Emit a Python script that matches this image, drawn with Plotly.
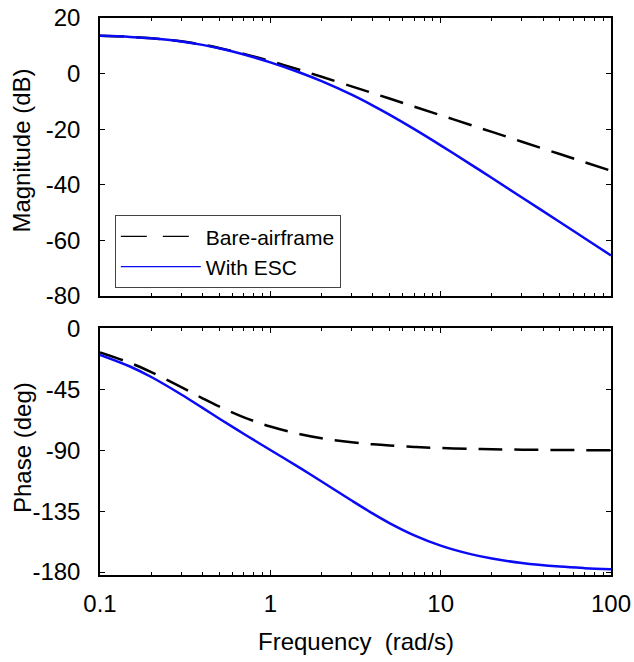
import plotly.graph_objects as go

freq = [0.1, 0.15, 0.2, 0.3, 0.4, 0.5, 0.7, 1, 1.5, 2, 3, 4, 5, 7, 10, 15, 20, 30, 50, 70, 100]
mag_bare = [13.58, 13.21, 12.73, 11.61, 10.41, 9.23, 7.10, 4.50, 1.26, -1.13, -4.58, -7.05, -8.98,
            -11.89, -14.98, -18.50, -20.99, -24.52, -28.95, -31.88, -34.97]
mag_esc = [13.57, 13.20, 12.71, 11.57, 10.33, 9.11, 6.87, 4.04, 0.29, -2.73, -7.59, -11.49, -14.75,
           -19.98, -25.81, -32.65, -37.56, -44.56, -53.40, -59.25, -65.43]
phase_bare = [-17.35, -25.11, -32.0, -43.15, -51.34, -57.38, -65.43, -72.26, -77.96, -80.91, -83.91,
              -85.43, -86.34, -87.38, -88.17, -88.78, -89.08, -89.39, -89.63, -89.74, -89.82]
phase_esc = [-19.14, -27.79, -35.58, -48.51, -58.47, -66.26, -77.77, -89.61, -103.07, -112.92, -127.06,
             -136.77, -143.72, -152.81, -160.43, -166.74, -169.99, -173.30, -175.97, -177.12, -177.99]

x_major = [0.1, 1, 10, 100]
x_major_text = ["0.1", "1", "10", "100"]
x_minor = [m * d for d in [0.1, 1, 10] for m in range(2, 10)]
mag_ticks = [20, 0, -20, -40, -60, -80]
mag_tick_text = ["20", "0", "-20", "-40", "-60", "-80"]
phase_ticks = [0, -45, -90, -135, -180]
phase_tick_text = ["0", "-45", "-90", "-135", "-180"]
series_names = ["Bare-airframe", "With ESC"]

FONT = "Liberation Sans, Arial, Helvetica, sans-serif"
BLUE = "#0a0af5"
DASH = "24px,12px"

fig = go.Figure()
fig.add_trace(go.Scatter(x=freq, y=mag_bare, mode="lines", showlegend=False,
                         line=dict(color="black", width=2.5, dash=DASH, shape="spline"),
                         xaxis="x", yaxis="y"))
fig.add_trace(go.Scatter(x=freq, y=mag_esc, mode="lines", showlegend=False,
                         line=dict(color=BLUE, width=2.5, shape="spline"),
                         xaxis="x", yaxis="y"))
fig.add_trace(go.Scatter(x=freq, y=phase_bare, mode="lines", showlegend=False,
                         line=dict(color="black", width=2.5, dash=DASH, shape="spline"),
                         xaxis="x2", yaxis="y2"))
fig.add_trace(go.Scatter(x=freq, y=phase_esc, mode="lines", showlegend=False,
                         line=dict(color=BLUE, width=2.5, shape="spline"),
                         xaxis="x2", yaxis="y2"))
# legend-only entries (thin lines as in the reference legend)
fig.add_trace(go.Scatter(x=[None], y=[None], mode="lines", name=series_names[0],
                         line=dict(color="black", width=1.2, dash="26px,16px"),
                         xaxis="x", yaxis="y"))
fig.add_trace(go.Scatter(x=[None], y=[None], mode="lines", name=series_names[1],
                         line=dict(color=BLUE, width=1.2),
                         xaxis="x", yaxis="y"))

common_x = dict(type="log", range=[-1, 2], showline=True, linecolor="black", linewidth=1.5,
                mirror="ticks", ticks="inside", ticklen=5, tickcolor="black",
                tickvals=x_major, showgrid=False, zeroline=False, automargin=False,
                minor=dict(ticks="inside", ticklen=3, tickcolor="black", tickmode="array",
                           tickvals=x_minor, showgrid=False),
                tickfont=dict(family=FONT, size=24, color="black"))
common_y = dict(showline=True, linecolor="black", linewidth=1.5, mirror="ticks", ticks="inside",
                ticklen=5, tickcolor="black", showgrid=False, zeroline=False, automargin=False,
                ticklabelstandoff=13,
                tickfont=dict(family=FONT, size=24, color="black"))

fig.update_layout(
    width=634, height=662,
    margin=dict(l=100, r=23, t=18, b=87, autoexpand=False),
    plot_bgcolor="white", paper_bgcolor="white",
    font=dict(family=FONT, size=24, color="black"),
    xaxis=dict(common_x, domain=[0, 1], anchor="y", showticklabels=False, matches="x2"),
    yaxis=dict(common_y, domain=[0.501, 1], anchor="x", range=[-80, 20], tickvals=mag_ticks,
               ticktext=mag_tick_text),
    xaxis2=dict(common_x, domain=[0, 1], anchor="y2", ticktext=x_major_text, ticklabelstandoff=6),
    yaxis2=dict(common_y, domain=[0, 0.4434], anchor="x2", range=[-182.2, 0.7], tickvals=phase_ticks,
                ticktext=phase_tick_text),
    legend=dict(x=0.029, y=0.646, xanchor="left", yanchor="top", bordercolor="#444",
                borderwidth=1, bgcolor="white", font=dict(family=FONT, size=21),
                itemwidth=80, tracegroupgap=0),
    showlegend=True,
    annotations=[
        dict(text="Magnitude (dB)", xref="paper", yref="paper", x=-0.1526, y=0.762,
             xanchor="center", yanchor="middle", textangle=-90, showarrow=False,
             font=dict(family=FONT, size=24, color="black")),
        dict(text="Phase (deg)", xref="paper", yref="paper", x=-0.1526, y=0.228,
             xanchor="center", yanchor="middle", textangle=-90, showarrow=False,
             font=dict(family=FONT, size=24, color="black")),
        dict(text="Frequency  (rad/s)", xref="paper", yref="paper", x=0.501, y=-0.120,
             xanchor="center", yanchor="middle", showarrow=False,
             font=dict(family=FONT, size=24, color="black")),
    ],
)

fig.write_html("out.html", config={"displayModeBar": False},
               post_script="document.body.style.margin='0px';")
